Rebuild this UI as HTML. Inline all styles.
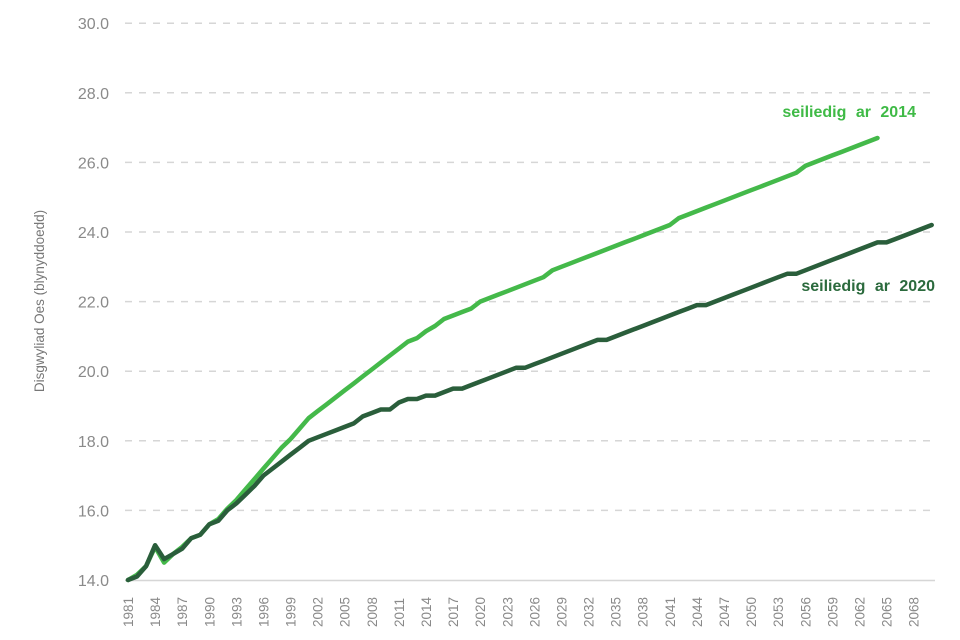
<!DOCTYPE html>
<html><head><meta charset="utf-8"><style>
body{margin:0;background:#fff;}
svg{display:block;font-family:"Liberation Sans",sans-serif;}
</style></head><body>
<svg id="chart" width="960" height="640">
<text transform="translate(44,301) rotate(-90)" text-anchor="middle" font-size="13.5" fill="#777">Disgwyliad Oes (blynyddoedd)</text>
<g id="grid"></g><g id="yticks"></g><g id="xticks"></g><g id="series"></g>
<text x="916" y="117" text-anchor="end" font-size="16" font-weight="bold" fill="#3fba46" word-spacing="5">seiliedig ar 2014</text>
<text x="935" y="291" text-anchor="end" font-size="16" font-weight="bold" fill="#2b6a3d" word-spacing="5">seiliedig ar 2020</text>
</svg>
<script>
const yTicks=[14,16,18,20,22,24,26,28,30];
const startYear=1981;
const s2020=[14.0,14.1,14.4,15.0,14.6,14.75,14.9,15.2,15.3,15.6,15.7,16.0,16.2,16.45,16.7,17.0,17.2,17.4,17.6,17.8,18.0,18.1,18.2,18.3,18.4,18.5,18.7,18.8,18.9,18.9,19.1,19.2,19.2,19.3,19.3,19.4,19.5,19.5,19.6,19.7,19.8,19.9,20.0,20.1,20.1,20.2,20.3,20.4,20.5,20.6,20.7,20.8,20.9,20.9,21.0,21.1,21.2,21.3,21.4,21.5,21.6,21.7,21.8,21.9,21.9,22.0,22.1,22.2,22.3,22.4,22.5,22.6,22.7,22.8,22.8,22.9,23.0,23.1,23.2,23.3,23.4,23.5,23.6,23.7,23.7,23.8,23.9,24.0,24.1,24.2];
const s2014=[14.0,14.15,14.4,14.95,14.5,14.75,14.95,15.2,15.3,15.6,15.75,16.05,16.3,16.6,16.9,17.2,17.5,17.8,18.05,18.35,18.65,18.85,19.05,19.25,19.45,19.65,19.85,20.05,20.25,20.45,20.65,20.85,20.95,21.15,21.3,21.5,21.6,21.7,21.8,22.0,22.1,22.2,22.3,22.4,22.5,22.6,22.7,22.9,23.0,23.1,23.2,23.3,23.4,23.5,23.6,23.7,23.8,23.9,24.0,24.1,24.2,24.4,24.5,24.6,24.7,24.8,24.9,25.0,25.1,25.2,25.3,25.4,25.5,25.6,25.7,25.9,26.0,26.1,26.2,26.3,26.4,26.5,26.6,26.7];
const NS='http://www.w3.org/2000/svg';
const X=yr=>128+(yr-1981)*9.03;
const Y=v=>580-(v-14)*34.8;
function mk(tag,attrs,parent){const e=document.createElementNS(NS,tag);for(const k in attrs)e.setAttribute(k,attrs[k]);parent.appendChild(e);return e;}
const grid=document.getElementById('grid'),yt=document.getElementById('yticks'),xt=document.getElementById('xticks'),ser=document.getElementById('series');
yTicks.forEach(v=>{
  if(v>14){const g=mk('line',{x1:125,x2:932,y1:Y(v),y2:Y(v),stroke:'#d6d6d6','stroke-width':1.5,'stroke-dasharray':'7 7'},grid);
  
  }
  const t=mk('text',{x:109,y:Y(v)+6,'text-anchor':'end','font-size':16,fill:'#8a8a8a'},yt);
  t.textContent=v.toFixed(1);
  
  
});
const ax=mk('line',{x1:125,x2:935,y1:580.5,y2:580.5,stroke:'#d6d6d6','stroke-width':1.5},grid);


for(let yr=1981;yr<=2068;yr+=3){
  const t=mk('text',{transform:`translate(${X(yr)+5},${627}) rotate(-90)`,'font-size':13.5,fill:'#8a8a8a'},xt);
  t.textContent=yr;
  
  
}
function line(data,color,name){
  const d=data.map((v,i)=>(i?'L':'M')+X(startYear+i).toFixed(1)+','+Y(v).toFixed(1)).join('');
  const p=mk('path',{d:d,fill:'none',stroke:color,'stroke-width':4.5,'stroke-linejoin':'round','stroke-linecap':'round'},ser);
  
  
}
line(s2014,'#44b94a','series-2014');
line(s2020,'#2a5e3b','series-2020');
</script>
</body></html>
